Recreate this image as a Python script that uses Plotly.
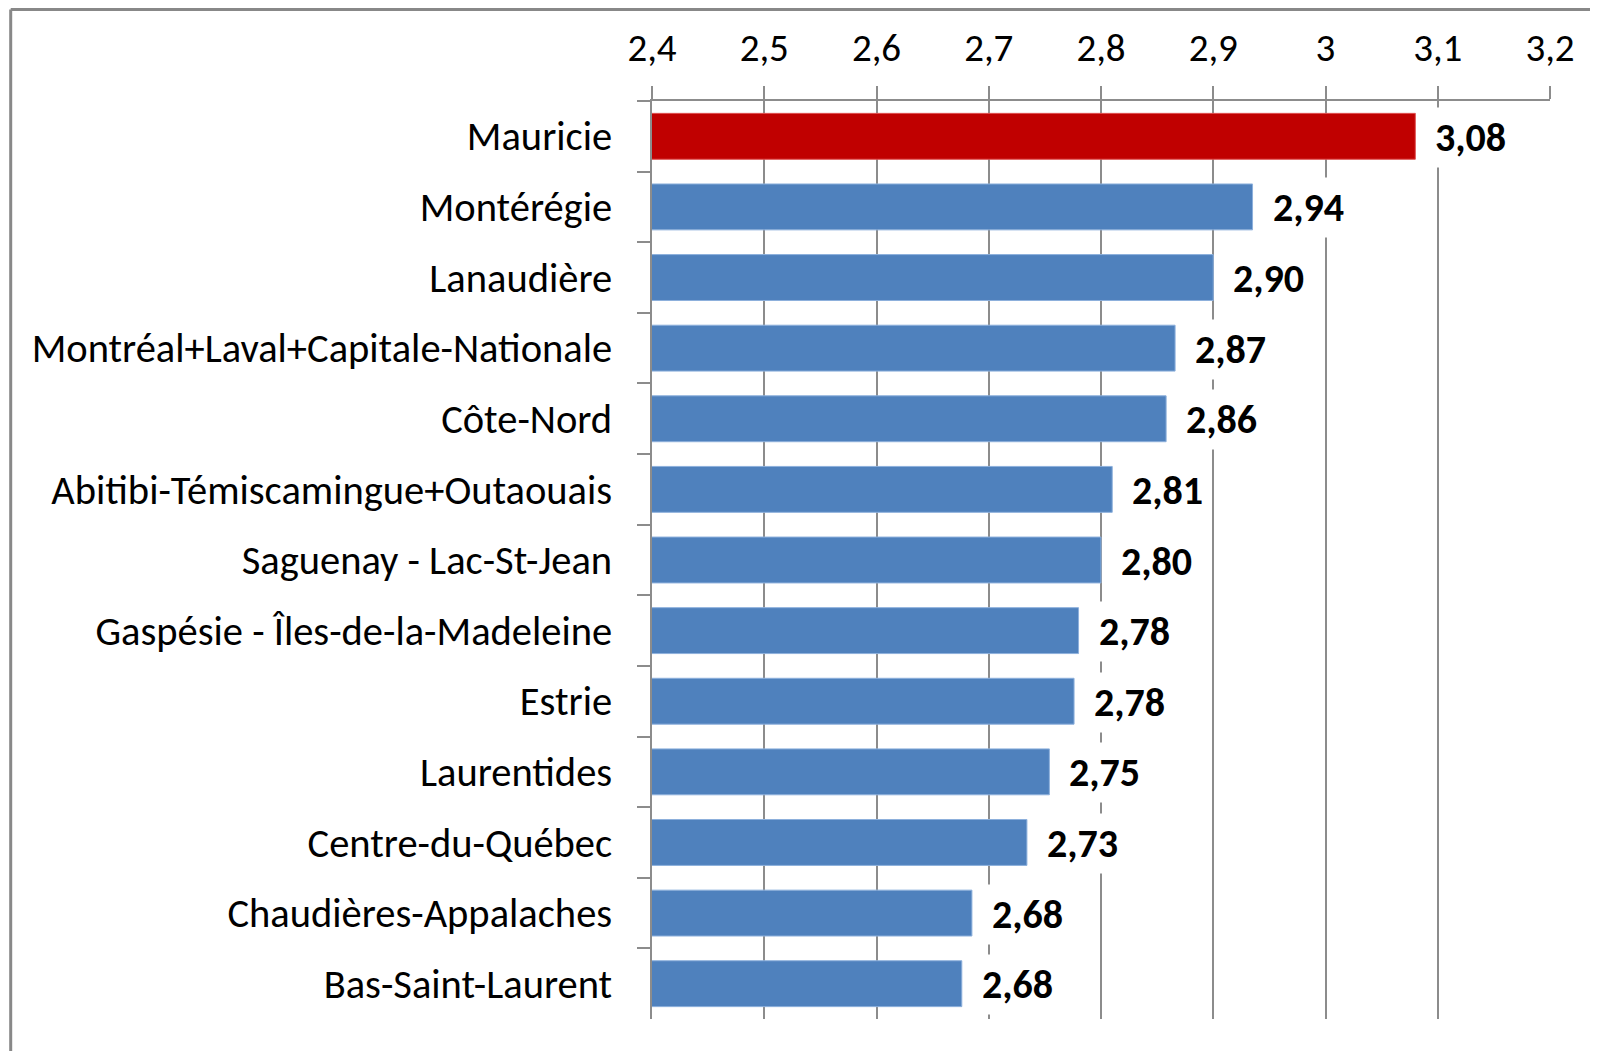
import plotly.graph_objects as go

regions = [
    "Mauricie", "Montérégie", "Lanaudière", "Montréal+Laval+Capitale-Nationale",
    "Côte-Nord", "Abitibi-Témiscamingue+Outaouais", "Saguenay - Lac-St-Jean",
    "Gaspésie - Îles-de-la-Madeleine", "Estrie", "Laurentides",
    "Centre-du-Québec", "Chaudières-Appalaches", "Bas-Saint-Laurent",
]
values = [3.080, 2.935, 2.900, 2.866, 2.858, 2.810, 2.800, 2.780, 2.776,
          2.754, 2.734, 2.685, 2.676]
labels = ["3,08", "2,94", "2,90", "2,87", "2,86", "2,81", "2,80", "2,78",
          "2,78", "2,75", "2,73", "2,68", "2,68"]
highlight = "Mauricie"
tick_vals = [2.4, 2.5, 2.6, 2.7, 2.8, 2.9, 3.0, 3.1, 3.2]
tick_text = ["2,4", "2,5", "2,6", "2,7", "2,8", "2,9", "3", "3,1", "3,2"]

FONT = "Carlito, Calibri, Lato, sans-serif"
colors = ["#C00000" if r == highlight else "#4F81BD" for r in regions]
line_colors = ["#E05050" if r == highlight else "#8DB0DC" for r in regions]

fig = go.Figure(go.Bar(
    x=values, y=regions, orientation="h", base=0,
    marker=dict(color=colors, line=dict(color=line_colors, width=1)),
    hoverinfo="skip",
))

for r, v, t in zip(regions, values, labels):
    fig.add_annotation(
        x=v, y=r, text="<b>%s</b>" % t, showarrow=False,
        xanchor="left", yanchor="middle", xshift=14, yshift=-1,
        bgcolor="white", borderpad=5,
        font=dict(family=FONT, size=40, color="black"),
    )

# page body has an 8px margin, so the figure is drawn 8px smaller
W, H = 1590, 1043
L, R, T, B = 644, 48, 93, 32
pw, ph = W - L - R, H - T - B

fig.update_layout(
    width=W, height=H,
    margin=dict(l=L, r=R, t=T, b=B, autoexpand=False),
    plot_bgcolor="white", paper_bgcolor="white",
    bargap=0.35, showlegend=False,
    font=dict(family=FONT, size=38, color="black"),
    xaxis=dict(
        side="top", range=[2.4, 3.2], tickvals=tick_vals, ticktext=tick_text,
        showgrid=True, gridcolor="#8C8C8C", gridwidth=1.5,
        showline=True, linecolor="#8C8C8C", linewidth=1.5,
        ticks="outside", ticklen=13, tickcolor="#8C8C8C", tickwidth=1.5,
        ticklabelstandoff=10, zeroline=False, automargin=False,
        tickfont=dict(family=FONT, size=39, color="black"),
    ),
    yaxis=dict(
        autorange="reversed", type="category",
        showline=True, linecolor="#8C8C8C", linewidth=1.5,
        ticks="outside", ticklen=13, tickcolor="#8C8C8C", tickwidth=1.5,
        tickson="boundaries", showgrid=False, ticklabelstandoff=30,
        automargin=False,
        tickfont=dict(family=FONT, size=40.5, color="black"),
    ),
)

# outer frame (top and left edges visible in the reference)
y_top = 1 + (T - 1.5) / ph
x_left = (2.7 - L) / pw
fig.add_shape(type="line", xref="paper", yref="paper",
              x0=x_left, x1=(W - L) / pw + 0.05, y0=y_top, y1=y_top,
              line=dict(color="#888888", width=3))
fig.add_shape(type="line", xref="paper", yref="paper",
              x0=x_left, x1=x_left, y0=y_top, y1=-0.1,
              line=dict(color="#888888", width=3))

fig.write_html("out.html")
